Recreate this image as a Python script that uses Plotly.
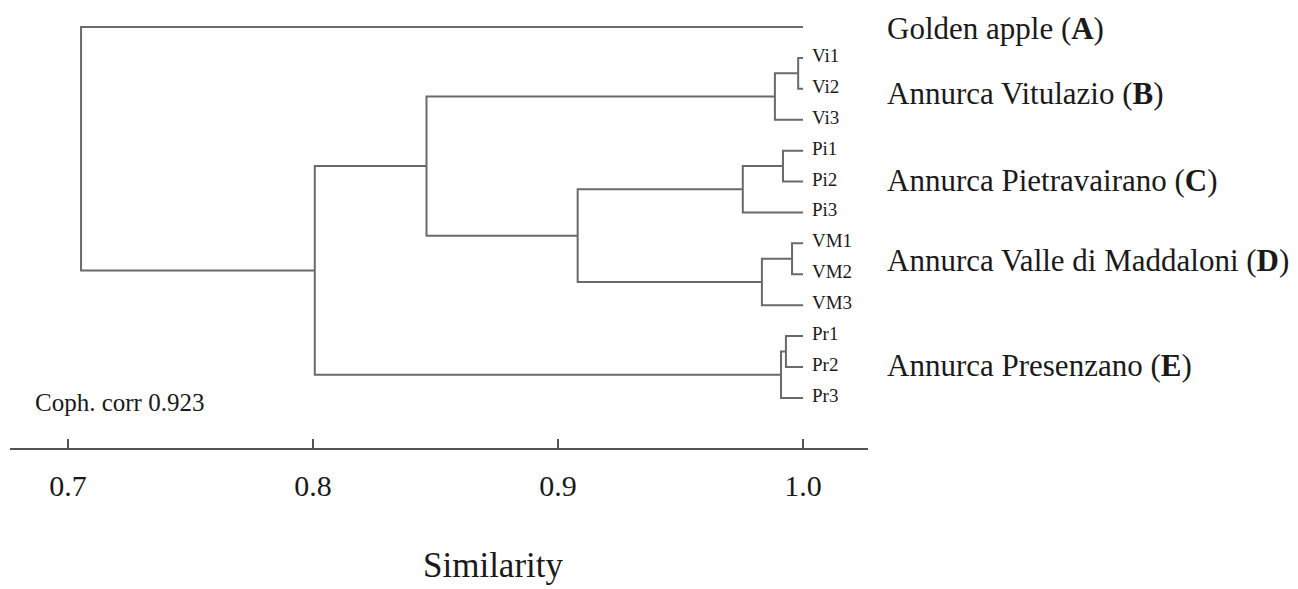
import plotly.graph_objects as go

# ---- data ----
leaves = ["Golden", "Vi1", "Vi2", "Vi3", "Pi1", "Pi2", "Pi3",
          "VM1", "VM2", "VM3", "Pr1", "Pr2", "Pr3"]
leaf_labels = ["", "Vi1", "Vi2", "Vi3", "Pi1", "Pi2", "Pi3",
               "VM1", "VM2", "VM3", "Pr1", "Pr2", "Pr3"]
# merges: (child_a, child_b, similarity); children are leaf names or merge ids "m<k>"
merge_a = ["Vi1", "m0", "Pi1", "m2", "VM1", "m4", "Pr1", "m6", "m3", "m1", "m9", "Golden"]
merge_b = ["Vi2", "Vi3", "Pi2", "Pi3", "VM2", "VM3", "Pr2", "Pr3", "m5", "m8", "m7", "m10"]
merge_sim = [0.998, 0.9885, 0.9918, 0.9754, 0.9955, 0.9832, 0.993, 0.991,
             0.908, 0.8463, 0.8007, 0.7053]
group_labels = ["Golden apple (<b>A</b>)", "Annurca Vitulazio (<b>B</b>)",
                "Annurca Pietravairano (<b>C</b>)", "Annurca Valle di Maddaloni (<b>D</b>)",
                "Annurca Presenzano (<b>E</b>)"]
group_pos = [0.05, 2.15, 4.95, 7.55, 10.95]
tick_vals = [0.7, 0.8, 0.9, 1.0]
tick_text = ["0.7", "0.8", "0.9", "1.0"]
coph_text = "Coph. corr 0.923"
leaf_sim = 1.0

# ---- build segments ----
pos = {name: (leaf_sim, i) for i, name in enumerate(leaves)}
xs, ys = [], []
for k, (a, b, h) in enumerate(zip(merge_a, merge_b, merge_sim)):
    xa, ya = pos[a]
    xb, yb = pos[b]
    xs += [xa, h, h, xb, None]
    ys += [ya, ya, yb, yb, None]
    pos[f"m{k}"] = (h, (ya + yb) / 2)

SERIF = "Liberation Serif, Times New Roman, serif"
LINE = "#6a6a6a"
TXT = "#1a1a1a"

fig = go.Figure()
fig.add_trace(go.Scatter(x=xs, y=ys, mode="lines",
                         line=dict(color=LINE, width=2), hoverinfo="skip",
                         showlegend=False, cliponaxis=False))

ann = []
for i, lab in enumerate(leaf_labels):
    if lab:
        ann.append(dict(x=leaf_sim, y=i - 0.08, xref="x", yref="y", text=lab,
                        xanchor="left", yanchor="middle", xshift=7, showarrow=False,
                        font=dict(family=SERIF, size=19, color=TXT)))
for lab, p in zip(group_labels, group_pos):
    ann.append(dict(x=leaf_sim, y=p, xref="x", yref="y", text=lab,
                    xanchor="left", yanchor="middle", xshift=82, showarrow=False,
                    font=dict(family=SERIF, size=31, color=TXT)))
ann.append(dict(x=0.6856, y=12.15, xref="x", yref="y", text=coph_text,
                xanchor="left", yanchor="middle", showarrow=False,
                font=dict(family=SERIF, size=25, color=TXT)))
ann.append(dict(x=0.7 + (490 - 68) / 2433, y=0, xref="x", yref="paper",
                text="Similarity", xanchor="center", yanchor="top",
                yshift=-(544 - 448), showarrow=False,
                font=dict(family=SERIF, size=35, color=TXT)))

fig.update_layout(
    width=1298, height=589,
    margin=dict(l=10, r=430, t=0, b=141),
    plot_bgcolor="white", paper_bgcolor="white",
    annotations=ann,
    xaxis=dict(range=[0.6763, 1.0265], showgrid=False, zeroline=False,
               showline=True, linecolor="#555555", linewidth=2,
               ticks="inside", ticklen=9, tickwidth=2, tickcolor="#555555",
               tickvals=tick_vals, ticktext=tick_text, ticklabelstandoff=10,
               tickfont=dict(family=SERIF, size=30, color=TXT)),
    yaxis=dict(range=[13.62, -0.873], visible=False, showgrid=False, zeroline=False),
)

fig.write_html("out.html")
